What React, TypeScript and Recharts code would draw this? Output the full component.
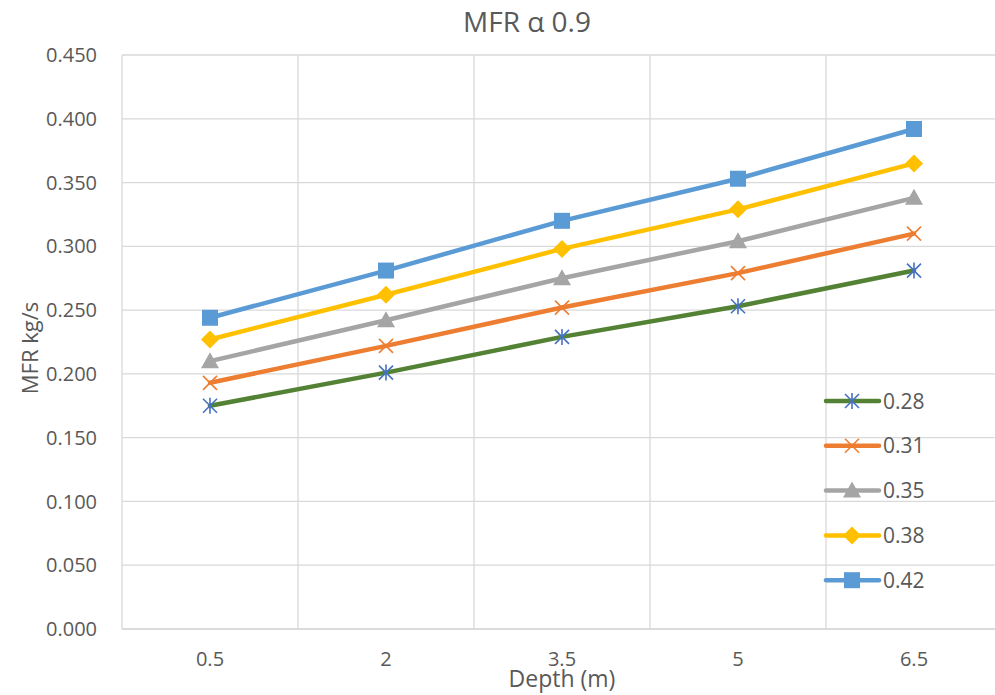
import React from 'react';
import { LineChart, Line, XAxis, YAxis, CartesianGrid, Legend, Label } from 'recharts';

// Depth categories along the x axis
const depths = ['0.5', '2', '3.5', '5', '6.5'];

// Mass flow rate (kg/s) for each series
const mfr028 = [0.175, 0.201, 0.229, 0.253, 0.281];
const mfr031 = [0.193, 0.222, 0.252, 0.279, 0.310];
const mfr035 = [0.210, 0.242, 0.275, 0.304, 0.338];
const mfr038 = [0.227, 0.262, 0.298, 0.329, 0.365];
const mfr042 = [0.244, 0.281, 0.320, 0.353, 0.392];

const seriesNames = ['0.28', '0.31', '0.35', '0.38', '0.42'];
const seriesValues = [mfr028, mfr031, mfr035, mfr038, mfr042];

const yTicks = [0, 0.05, 0.1, 0.15, 0.2, 0.25, 0.3, 0.35, 0.4, 0.45];

const FONT = '"Open Sans", "Noto Sans", sans-serif';
const TEXT = '#595959';
const GRID = '#d9d9d9';

type Shape = 'star' | 'x' | 'triangle' | 'diamond' | 'square';

const styles: { line: string; marker: string; shape: Shape }[] = [
  { line: '#548235', marker: '#4472C4', shape: 'star' },
  { line: '#ED7D31', marker: '#ED7D31', shape: 'x' },
  { line: '#A5A5A5', marker: '#A5A5A5', shape: 'triangle' },
  { line: '#FFC000', marker: '#FFC000', shape: 'diamond' },
  { line: '#5B9BD5', marker: '#5B9BD5', shape: 'square' },
];

const data = depths.map((d, i) => {
  const row: Record<string, string | number> = { depth: d };
  seriesNames.forEach((n, s) => {
    row[n] = seriesValues[s][i];
  });
  return row;
});

function Marker({ shape, color, cx, cy }: { shape: Shape; color: string; cx: number; cy: number }) {
  if (cx == null || cy == null) return null;
  switch (shape) {
    case 'square':
      return <rect x={cx - 8} y={cy - 8} width={16} height={16} fill={color} />;
    case 'diamond':
      return <polygon points={`${cx},${cy - 9} ${cx + 9},${cy} ${cx},${cy + 9} ${cx - 9},${cy}`} fill={color} />;
    case 'triangle':
      return <polygon points={`${cx},${cy - 9} ${cx + 9},${cy + 7} ${cx - 9},${cy + 7}`} fill={color} />;
    case 'x':
      return (
        <g stroke={color} strokeWidth={1.6}>
          <line x1={cx - 7} y1={cy - 7} x2={cx + 7} y2={cy + 7} />
          <line x1={cx - 7} y1={cy + 7} x2={cx + 7} y2={cy - 7} />
        </g>
      );
    case 'star':
    default:
      return (
        <g stroke={color} strokeWidth={1.6}>
          <line x1={cx - 7} y1={cy - 7} x2={cx + 7} y2={cy + 7} />
          <line x1={cx - 7} y1={cy + 7} x2={cx + 7} y2={cy - 7} />
          <line x1={cx} y1={cy - 8} x2={cx} y2={cy + 8} />
        </g>
      );
  }
}

function LegendBox() {
  return (
    <svg width={175} height={215} style={{ display: 'block' }}>
      {seriesNames.map((name, i) => {
        const st = styles[i];
        const y = 16 + i * 44.8;
        return (
          <g key={name}>
            <line x1={7} y1={y} x2={60} y2={y} stroke={st.line} strokeWidth={4.5} strokeLinecap="round" />
            <Marker shape={st.shape} color={st.marker} cx={33} cy={y} />
            <text x={64} y={y + 7.5} fontFamily={FONT} fontSize={21} fill={TEXT}>
              {name}
            </text>
          </g>
        );
      })}
    </svg>
  );
}

function YTitle(props: any) {
  const vb = props.viewBox || { x: 0, y: 0, width: 0, height: 0 };
  const x = vb.x + 38;
  const y = vb.y + vb.height / 2 + 6;
  return (
    <text
      x={x}
      y={y}
      transform={`rotate(-90, ${x}, ${y})`}
      textAnchor="middle"
      fontFamily={FONT}
      fontSize={22}
      fill={TEXT}
    >
      MFR kg/s
    </text>
  );
}

export default function App() {
  return (
    <div style={{ position: 'absolute', left: 0, top: 0, width: 995, height: 695, overflow: 'hidden', background: '#fff' }}>
      <LineChart width={1002} height={695} data={data} margin={{ top: 55, right: 0, bottom: 0, left: 0 }}>
        <CartesianGrid
          stroke={GRID}
          strokeWidth={1.3}
          verticalCoordinatesGenerator={({ offset }: any) =>
            depths.map((_, i) => offset.left + (i * offset.width) / depths.length).concat([offset.left + offset.width])
          }
        />
        <XAxis
          dataKey="depth"
          type="category"
          padding={{ left: 88, right: 88 }}
          height={66}
          axisLine={{ stroke: GRID, strokeWidth: 1.5 }}
          tickLine={false}
          tickSize={0}
          tickMargin={23}
          tick={{ fontFamily: FONT, fontSize: 20, fill: TEXT }}
        >
          <Label value="Depth (m)" position="insideBottom" offset={8} style={{ fontFamily: FONT, fontSize: 23, fill: TEXT }} />
        </XAxis>
        <YAxis
          width={122}
          domain={[0, 0.45]}
          ticks={yTicks}
          interval={0}
          axisLine={false}
          tickLine={false}
          tickSize={0}
          tickMargin={25}
          tickFormatter={(v: number) => v.toFixed(3)}
          tick={{ fontFamily: FONT, fontSize: 20, fill: TEXT }}
        >
          <Label content={YTitle} />
        </YAxis>
        {seriesNames.map((name, i) => (
          <Line
            key={name}
            dataKey={name}
            name={name}
            stroke={styles[i].line}
            strokeWidth={4.5}
            strokeLinecap="round"
            strokeLinejoin="round"
            isAnimationActive={false}
            dot={(p: any) => (
              <Marker key={`${name}-${p.index}`} shape={styles[i].shape} color={styles[i].marker} cx={p.cx} cy={p.cy} />
            )}
            activeDot={false}
          />
        ))}
        <Legend
          layout="vertical"
          align="center"
          verticalAlign="middle"
          content={() => <LegendBox />}
          wrapperStyle={{ position: 'absolute', left: 819, top: 385, width: 175, height: 215 }}
        />
      </LineChart>
      <svg width={995} height={50} style={{ position: 'absolute', left: 0, top: 0, pointerEvents: 'none' }}>
        <text x={527} y={32} textAnchor="middle" fontFamily={FONT} fontSize={28} fill={TEXT}>
          MFR α 0.9
        </text>
      </svg>
    </div>
  );
}
